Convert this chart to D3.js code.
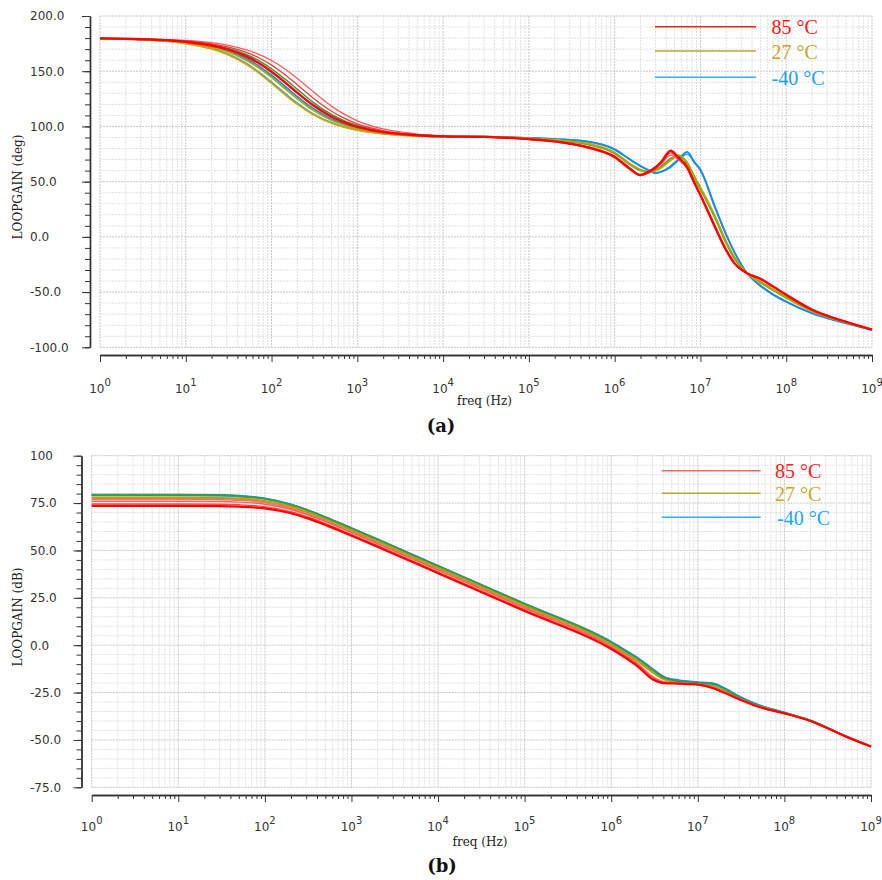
<!DOCTYPE html>
<html>
<head>
<meta charset="utf-8">
<script src="https://cdn.jsdelivr.net/npm/d3@7"></script>
<style>
body { margin: 0; background: #fff; }
</style>
</head>
<body>
<script>
var width = 882,
    height = 880;

// ---- data: panel (a) loop gain phase ----
var phaseFreq = [1, 3, 10, 20, 30, 50, 70, 100, 150, 200, 300, 500, 700, 1e3, 2e3, 5e3, 1e4,
  3e4, 1e5, 2e5, 5e5, 1e6, 1.5e6, 2e6, 2.5e6, 3e6, 3.5e6, 4.5e6, 5.5e6, 7e6, 8.5e6, 1e7,
  1.5e7, 2e7, 2.5e7, 3.5e7, 5e7, 7e7, 1e8, 2e8, 5e8, 1e9];

var phaseB1 = [179.6,178.9,176.2,172.4,168.7,161.6,155,146.3,135,126.9,116.6,106.7,102.1,98.5,94.3,91.7,90.9,
  90.8,89.5,88.5,86,79,70,64,60,57.6,59,64,70,77,68,61,26,2,-14,-33,-44,-52,-58.5,-69,-78,-84.5];
var phaseB2 = [179.5,178.6,175.2,170.5,166,157.4,149.7,140.2,128.7,121,111.8,103.5,99.7,96.8,93.4,91.4,90.7,
  90.9,89.6,88.6,86.3,79.5,70.5,64.5,60.5,58,59,63,69,75,67,60,25,1.5,-14.5,-33,-44.5,-52.5,-59,-69.5,-78.5,-84.5];
var phaseO1 = [179.6,178.8,175.9,171.9,167.9,160.3,153.4,144.5,133,125,115,105.6,101.3,98,94,91.6,90.8,
  90.7,89,87.5,84,76,66,60.5,58.5,60,63,70,74,67,54,44,17,-5,-19,-33,-41,-48,-55,-67,-77.5,-84];
var phaseO2 = [179.5,178.5,175,170.1,165.4,156.5,148.7,139,127.5,119.9,111,102.9,99.3,96.6,93.3,91.3,90.7,
  90.8,89.2,87.8,84.5,76.5,66.5,61,59,60,62.5,69,73.5,67.5,55,45,18,-4,-18.5,-33,-41.5,-48.5,-55.5,-67.5,-77.5,-84];
var phaseG = [179.7,179.1,177,174,171,165.3,159.8,152.2,141.7,133.6,122.3,110.8,105.2,100.8,95.4,92.2,91.1,
  90.6,88.8,87.2,83.5,75.5,65.5,60,58.5,60.5,64,71,73,66,53,43,16,-6,-20,-33,-40.5,-47.5,-54.5,-66.5,-77.5,-84];
var phaseR1 = [179.8,179.4,177.9,175.8,173.7,169.5,165.5,159.7,150.9,143.5,132,118.4,111.1,105.1,97.7,93.1,91.5,
  90.3,88.2,86,80,71.5,61,55.5,58,61.5,66,74,70,62,48,37,7,-13,-24.5,-33,-37.5,-44.5,-52,-65.5,-77,-84];
var phaseR2 = [179.7,179.2,177.4,174.8,172.2,167.2,162.4,155.5,145.7,137.7,126.3,113.8,107.5,102.4,96.3,92.5,91.3,
  90.4,88.3,86.2,80.5,72,61.5,56,58.5,62,67,76,71,62.5,48.5,37.5,7.5,-12.5,-24,-33,-38,-45,-52.5,-66,-77,-84];
var phaseR3 = [179.7,179,176.6,173.3,170,163.6,157.6,149.5,138.6,130.4,119.6,108.8,103.7,99.6,94.8,92,91,
  90.5,88.5,86.5,81,72.5,62,56,59,63,68,78,72,63,49,38,8,-12,-24,-33,-38,-45,-52.5,-66,-77,-84];

// ---- data: panel (b) loop gain magnitude ----
var gainFreq = [1, 10, 30, 50, 100, 200, 300, 500, 1e3, 1e4, 1e5, 1e6, 1.5e6, 2e6, 3e6, 4e6, 6e6,
  1e7, 1.5e7, 2e7, 3e7, 5e7, 1e8, 2e8, 5e8, 1e9];

var gainB1 = [79.5,79.5,79.3,78.9,77.5,74.3,71.6,67.6,61.8,41.9,21.9, 1.8,-3,-6.5,-12.5,-16.5,-18.5,-19.5,-20.2,-22.5,-27,-31.5,-35.5,-39.7,-47.8,-53.5];
var gainB2 = [79,79,78.8,78.4,77.1,74,71.3,67.3,61.5,41.6,21.6, 1.5,-3.3,-6.8,-12.8,-16.8,-18.8,-19.7,-20.3,-22.7,-27.2,-31.6,-35.6,-39.8,-47.9,-53.5];
var gainO1 = [78,78,77.8,77.5,76.2,73.2,70.5,66.6,60.8,40.9,20.9, 0.5,-4.5,-8,-14,-17.5,-19.5,-20.3,-21.5,-24,-28,-32,-35.8,-40,-48,-53.5];
var gainO2 = [77.5,77.5,77.3,77,75.7,72.7,70,66.1,60.3,40.4,20.4, 0,-5,-8.5,-14.5,-18,-19.7,-20.4,-21.7,-24.2,-28.1,-32.1,-35.8,-40,-48,-53.5];
var gainG = [79.3,79.3,79.1,78.7,77.4,74.3,71.6,67.6,61.8,41.9,21.9, 1.5,-3.5,-7,-13,-17,-19,-19.8,-20.6,-23,-27.5,-31.8,-35.7,-39.8,-47.9,-53.5];
var gainR4 = [77,77,76.8,76.5,75.2,72.2,69.5,65.6,59.8,39.9,19.9, -0.5,-5.5,-9.5,-16.5,-19.2,-19.9,-20.5,-22.2,-24.5,-28.1,-32.2,-35.9,-40,-48,-53.5];
var gainR3 = [76,76,75.8,75.5,74.4,71.6,69,65.2,59.4,39.5,19.5, -1,-6,-10,-17,-19.5,-20,-20.6,-22.3,-24.6,-28.2,-32.3,-35.9,-40,-48,-53.5];
var gainR2 = [74.5,74.5,74.35,74.1,73.1,70.4,67.95,64.2,58.5,38.6,18.6, -1.5,-6.5,-10.5,-17.5,-19.8,-20.2,-20.7,-22.5,-24.8,-28.3,-32.4,-36,-40,-48,-53.5];
var gainR1 = [73.5,73.5,73.4,73.1,72.2,69.6,67.2,63.5,57.8,38,18, -2,-7,-11,-18,-20,-20.3,-20.8,-22.7,-25,-28.5,-32.5,-36,-40,-48,-53.5];

// ---- ticks and legend ----
var decadeExps = [0, 1, 2, 3, 4, 5, 6, 7, 8, 9];
var phaseTicks = [200, 150, 100, 50, 0, -50, -100];
var phaseTickLabels = ["200.0", "150.0", "100.0", "50.0", "0.0", "-50.0", "-100.0"];
var gainTicks = [100, 75, 50, 25, 0, -25, -50, -75];
var gainTickLabels = ["100", "75.0", "50.0", "25.0", "0.0", "-25.0", "-50.0", "-75.0"];
var legendNames = ["85 \u00B0C", "27 \u00B0C", "-40 \u00B0C"];

var svg = d3.select('body')
    .append('svg')
    .attr('width', width)
    .attr('height', height);

function drawPanel(p) {
    var g = svg.append('g');

    var x = d3.scaleLog().domain([1, 1e9]).range([p.left, p.right]);
    var y = d3.scaleLinear().domain(p.yDomain).range([p.bottom, p.top]);

    var minorFreqs = [];
    decadeExps.slice(0, 9).forEach(function(e) {
        for (var k = 2; k < 10; k++) minorFreqs.push(k * Math.pow(10, e));
    });
    var decadeFreqs = decadeExps.map(function(e) { return Math.pow(10, e); });
    var yMinor = d3.range(p.yDomain[0], p.yDomain[1] + 0.001, p.minorStep);

    // grid
    g.selectAll('.hg').data(yMinor).enter()
        .append('line')
        .attr('x1', p.left).attr('x2', p.right)
        .attr('y1', function(d) { return y(d); })
        .attr('y2', function(d) { return y(d); })
        .attr('stroke', function(d) { return p.yTicks.indexOf(d) >= 0 ? '#c6c6c6' : '#e0e0e0'; })
        .attr('stroke-dasharray', '2,1');
    g.selectAll('.vg').data(minorFreqs.concat(decadeFreqs)).enter()
        .append('line')
        .attr('x1', function(d) { return x(d); })
        .attr('x2', function(d) { return x(d); })
        .attr('y1', p.top).attr('y2', p.bottom)
        .attr('stroke', function(d) { return decadeFreqs.indexOf(d) >= 0 ? '#c6c6c6' : '#e0e0e0'; })
        .attr('stroke-dasharray', '2,1');

    // curves
    var line = d3.line()
        .x(function(d) { return x(d[0]); })
        .y(function(d) { return y(d[1]); })
        .curve(d3.curveMonotoneX);

    p.series.forEach(function(s) {
        g.append('path')
            .datum(p.freq.map(function(f, i) { return [f, s.values[i]]; }))
            .attr('fill', 'none')
            .attr('stroke', s.color)
            .attr('stroke-width', s.width)
            .attr('stroke-linejoin', 'round')
            .attr('d', line);
    });

    // y axis
    var ya = g.append('g')
        .attr('transform', 'translate(' + p.yAxisX + ',0)')
        .call(d3.axisLeft(y).tickValues(yMinor).tickSize(5).tickSizeOuter(0).tickFormat(''));
    var yb = g.append('g')
        .attr('transform', 'translate(' + p.yAxisX + ',0)')
        .call(d3.axisLeft(y).tickValues(p.yTicks).tickSize(8).tickSizeOuter(0)
            .tickFormat(function(d, i) { return p.yLabels[i]; }));
    yb.selectAll('text')
        .attr('x', 30 - p.yAxisX)
        .attr('text-anchor', 'start')
        .attr('font-size', 12)
        .attr('font-family', 'DejaVu Sans, sans-serif')
        .attr('fill', '#333');
    [ya, yb].forEach(function(a) {
        a.attr('color', '#333');
        a.select('.domain').attr('stroke-width', 1.4);
    });

    // x axis
    var xa = g.append('g')
        .attr('transform', 'translate(0,' + p.xAxisY + ')')
        .call(d3.axisBottom(x).tickValues(minorFreqs).tickSize(4).tickSizeOuter(0).tickFormat(''));
    var xb = g.append('g')
        .attr('transform', 'translate(0,' + p.xAxisY + ')')
        .call(d3.axisBottom(x).tickValues(decadeFreqs).tickSize(7).tickSizeOuter(0).tickFormat(''));
    [xa, xb].forEach(function(a) {
        a.attr('color', '#333');
        a.select('.domain').attr('stroke-width', 1.4);
    });

    g.selectAll('.xl').data(decadeExps).enter()
        .append('text')
        .attr('x', function(d) { return x(Math.pow(10, d)); })
        .attr('y', p.xLabelY)
        .attr('text-anchor', 'middle')
        .attr('font-family', 'DejaVu Sans, sans-serif')
        .attr('font-size', 12)
        .attr('fill', '#333')
        .each(function(d) {
            var t = d3.select(this);
            t.append('tspan').text('10');
            t.append('tspan').attr('dy', -7).attr('font-size', 10).text(d);
        });

    // axis titles
    g.append('text')
        .attr('x', p.xTitleX).attr('y', p.xTitleY)
        .attr('font-family', 'DejaVu Serif, serif')
        .attr('font-size', 12)
        .attr('fill', '#222')
        .text('freq (Hz)');
    g.append('text')
        .attr('transform', 'translate(' + p.yTitleX + ',' + p.yTitleY + ') rotate(-90)')
        .attr('text-anchor', 'middle')
        .attr('font-family', 'DejaVu Serif, serif')
        .attr('font-size', 12)
        .attr('fill', '#222')
        .text(p.yTitle);

    // legend
    legendNames.forEach(function(name, i) {
        var ly = p.legend.y[i];
        g.append('line')
            .attr('x1', p.legend.x1).attr('x2', p.legend.x2)
            .attr('y1', ly).attr('y2', ly)
            .attr('stroke', p.legend.lineColors[i])
            .attr('stroke-width', 1.6);
        g.append('text')
            .attr('x', p.legend.tx[i]).attr('y', ly + 7.5)
            .attr('font-family', 'Liberation Serif, serif')
            .attr('font-size', 20)
            .attr('fill', p.legend.textColors[i])
            .text(name);
    });

    // caption
    g.append('text')
        .attr('x', p.capX).attr('y', p.capY)
        .attr('text-anchor', 'middle')
        .attr('font-family', 'DejaVu Serif, serif')
        .attr('font-size', 18)
        .attr('font-weight', 'bold')
        .attr('fill', '#111')
        .text(p.caption);
}

drawPanel({
    freq: phaseFreq,
    series: [
        {values: phaseB2, color: '#2aa6f0', width: 1.6},
        {values: phaseB1, color: '#1a8be0', width: 1.8},
        {values: phaseO2, color: '#d8a400', width: 1.6},
        {values: phaseG, color: '#3c9a3c', width: 1.6},
        {values: phaseO1, color: '#a8a800', width: 1.8},
        {values: phaseR1, color: '#ff5a5a', width: 1.3},
        {values: phaseR2, color: '#ff3838', width: 1.3},
        {values: phaseR3, color: '#ff0000', width: 2.4}
    ],
    left: 100, right: 872, top: 16, bottom: 347.3,
    yDomain: [-100, 200], minorStep: 10,
    yTicks: phaseTicks, yLabels: phaseTickLabels,
    yAxisX: 90, xAxisY: 355, xLabelY: 393,
    xTitleX: 457, xTitleY: 405,
    yTitle: 'LOOPGAIN (deg)', yTitleX: 22, yTitleY: 187,
    legend: {x1: 655, x2: 756, y: [26.7, 51, 77.3], tx: [771.5, 771.5, 771.5],
        lineColors: ['#e8261e', '#b8a832', '#34b0f0'],
        textColors: ['#ff1414', '#c8a424', '#1aa2ea']},
    caption: '(a)', capX: 441, capY: 432
});

drawPanel({
    freq: gainFreq,
    series: [
        {values: gainB2, color: '#2aa6f0', width: 1.6},
        {values: gainB1, color: '#1a8be0', width: 1.8},
        {values: gainO2, color: '#f08a00', width: 1.6},
        {values: gainO1, color: '#a8a800', width: 1.8},
        {values: gainG, color: '#3c9a3c', width: 1.6},
        {values: gainR4, color: '#ff7070', width: 1.4},
        {values: gainR3, color: '#ff6060', width: 1.4},
        {values: gainR2, color: '#ff4848', width: 1.4},
        {values: gainR1, color: '#ff0000', width: 2.2}
    ],
    left: 91.7, right: 871, top: 455.7, bottom: 787.3,
    yDomain: [-75, 100], minorStep: 5,
    yTicks: gainTicks, yLabels: gainTickLabels,
    yAxisX: 81.5, xAxisY: 795, xLabelY: 831,
    xTitleX: 452.5, xTitleY: 846,
    yTitle: 'LOOPGAIN (dB)', yTitleX: 22, yTitleY: 617,
    legend: {x1: 661.7, x2: 760.7, y: [470.7, 493.3, 517.3], tx: [775, 775, 777],
        lineColors: ['#ff6464', '#b8a832', '#34b0f0'],
        textColors: ['#ff2020', '#c8a62a', '#20a8f0']},
    caption: '(b)', capX: 442, capY: 872
});
</script>
</body>
</html>
